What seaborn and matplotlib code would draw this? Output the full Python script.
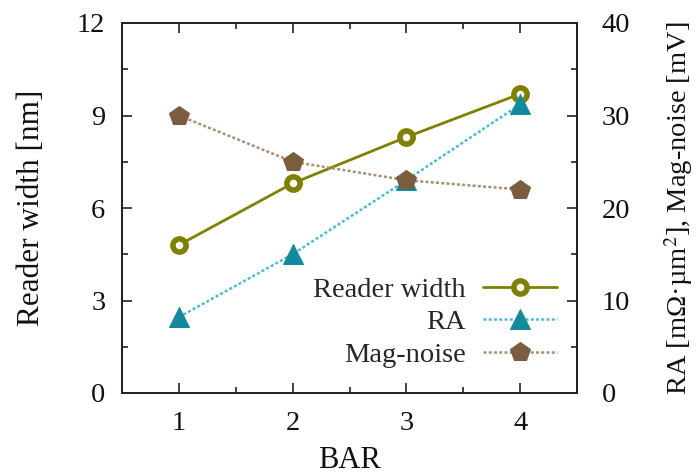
import matplotlib
matplotlib.use("Agg")
import matplotlib.pyplot as plt
import seaborn as sns
import pandas as pd
from matplotlib.ticker import MultipleLocator

bar = [1, 2, 3, 4]
reader_width = [4.8, 6.8, 8.3, 9.7]
ra = [8.2, 15.0, 23.0, 31.2]
mag_noise = [30.0, 25.0, 23.0, 22.0]

df = pd.DataFrame({"BAR": bar, "Reader width": reader_width, "RA": ra, "Mag-noise": mag_noise})

sns.set_theme(style="ticks")
plt.rcParams['font.family'] = ['Liberation Serif', 'DejaVu Serif']
plt.rcParams['mathtext.fontset'] = 'stix'

olive = "#808000"
teal = "#138a9c"
teal_line = "#4fb9d2"
brown = "#7a5c3e"
brown_line = "#a88f76"

fig = plt.figure(figsize=(6.96, 4.76), dpi=100)
ax = fig.add_axes([122/696, 1-393/476, 455/696, 370/476])
ax2 = ax.twinx()

sns.lineplot(data=df, x="BAR", y="Reader width", ax=ax, color=olive, lw=2.0,
             marker="o", markersize=9.5, markeredgewidth=4.0, markerfacecolor="white",
             markeredgecolor=olive, label="Reader width", legend=False)
sns.lineplot(data=df, x="BAR", y="RA", ax=ax2, color=teal_line, lw=1.8, dashes=False,
             linestyle=(0, (1.2, 0.9)), marker="^", markersize=14,
             markerfacecolor=teal, markeredgecolor=teal, label="RA", legend=False)
sns.lineplot(data=df, x="BAR", y="Mag-noise", ax=ax2, color=brown_line, lw=1.8,
             linestyle=(0, (1.2, 0.9)), marker="p", markersize=15,
             markerfacecolor=brown, markeredgecolor=brown, label="Mag-noise", legend=False)

ax.set_xlim(0.5, 4.5)
ax.set_ylim(0, 12)
ax2.set_ylim(0, 40)
ax.xaxis.set_major_locator(MultipleLocator(1))
ax.xaxis.set_minor_locator(MultipleLocator(0.5))
ax.yaxis.set_major_locator(MultipleLocator(3))
ax.yaxis.set_minor_locator(MultipleLocator(1.5))
ax2.yaxis.set_major_locator(MultipleLocator(10))
ax2.yaxis.set_minor_locator(MultipleLocator(5))

for a in (ax, ax2):
    for s in a.spines.values():
        s.set_linewidth(1.3)
        s.set_color("#222222")
ax.tick_params(axis="x", which="both", direction="in", top=True, bottom=True,
               labelsize=20.5, pad=13, colors="#222222", labelcolor="#111111")
ax.tick_params(axis="y", which="both", direction="in", left=True, right=False,
               labelsize=20.5, pad=12, colors="#222222", labelcolor="#111111")
ax2.tick_params(axis="y", which="both", direction="in", right=True,
                labelsize=20.5, pad=18, colors="#222222", labelcolor="#111111")
for a in (ax, ax2):
    a.tick_params(which="major", length=7, width=1.2)
    a.tick_params(which="minor", length=4, width=1.2)

ax.set_xlabel("BAR", fontsize=22, labelpad=7, color="#111111")
ax.set_ylabel("Reader width [nm]", fontsize=22.5, labelpad=22, color="#111111")
ax2.set_ylabel("RA [mΩ·µm$^2$], Mag-noise [mV]", fontsize=20.5,
               labelpad=23, color="#111111")

h1, l1 = ax.get_legend_handles_labels()
h2, l2 = ax2.get_legend_handles_labels()
leg = ax2.legend(h1 + h2, l1 + l2, loc="lower right", bbox_to_anchor=(1.0, 0.015),
                 frameon=False, markerfirst=False, fontsize=20.5, handlelength=2.6,
                 handletextpad=0.6, labelspacing=0.22, borderaxespad=0.3)

fig.savefig("out.png", dpi=100)
